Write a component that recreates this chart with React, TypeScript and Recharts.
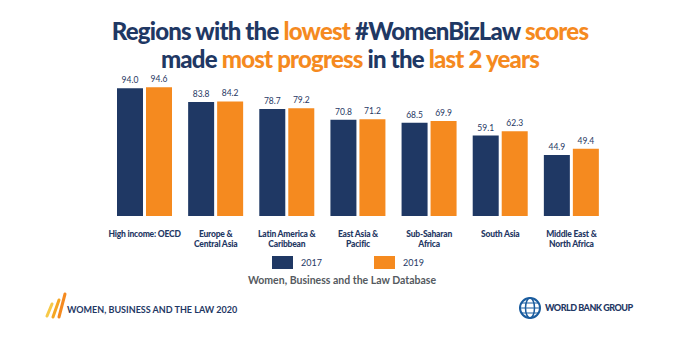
import { BarChart, Bar, XAxis, YAxis, LabelList } from 'recharts'

const regions = [
  'High income: OECD',
  'Europe &\nCentral Asia',
  'Latin America &\nCaribbean',
  'East Asia &\nPacific',
  'Sub-Saharan\nAfrica',
  'South Asia',
  'Middle East &\nNorth Africa',
]
const scores2017 = [94.0, 83.8, 78.7, 70.8, 68.5, 59.1, 44.9]
const scores2019 = [94.6, 84.2, 79.2, 71.2, 69.9, 62.3, 49.4]
const years = ['2017', '2019']

const NAVY = '#1f3864'
const ORANGE = '#f58a1f'
const FONT = 'Lato, "Open Sans", sans-serif'

const data = regions.map((name, i) => ({ name, y2017: scores2017[i], y2019: scores2019[i] }))

function RegionTick({ x, y, payload }: any) {
  const lines = String(payload.value).split('\n')
  return (
    <text x={x} y={y} textAnchor="middle" fill={NAVY} fontSize={8.5} fontWeight={900}
      letterSpacing={-0.2} fontFamily={FONT}>
      {lines.map((l, i) => (
        <tspan key={i} x={x} dy={i === 0 ? 13 : 10}>{l}</tspan>
      ))}
    </text>
  )
}

const fmt = (v: any) => Number(v).toFixed(1)

function Title() {
  const o = { color: ORANGE }
  return (
    <div style={{
      position: 'absolute', left: 10, top: 17, width: 680, textAlign: 'center',
      fontFamily: FONT, fontWeight: 900, fontSize: 24, lineHeight: '28px',
      letterSpacing: -0.8, color: NAVY,
    }}>
      <div>Regions with the <span style={o}>lowest</span> #WomenBizLaw <span style={o}>scores</span></div>
      <div>made <span style={o}>most progress</span> in the <span style={o}>last 2 years</span></div>
    </div>
  )
}

function Legend() {
  const colors = [NAVY, ORANGE]
  return (
    <>
      {years.map((yr, i) => (
        <div key={yr} style={{ position: 'absolute', left: 272 + i * 102, top: 256, display: 'flex', alignItems: 'center' }}>
          <div style={{ width: 21, height: 13, background: colors[i] }} />
          <span style={{ marginLeft: 8, fontFamily: FONT, fontSize: 9, color: NAVY }}>{yr}</span>
        </div>
      ))}
      <div style={{
        position: 'absolute', left: 0, top: 274, width: 684, textAlign: 'center',
        fontFamily: FONT, fontWeight: 700, fontSize: 10.5, color: '#555a60',
      }}>
        Women, Business and the Law Database
      </div>
    </>
  )
}

function Footer() {
  return (
    <>
      <svg style={{ position: 'absolute', left: 44, top: 292 }} width={24} height={28}>
        <path d="M3 24 L8 12" stroke="#f7c948" strokeWidth={3} strokeLinecap="round" />
        <path d="M9 25 L15 8" stroke="#f5a623" strokeWidth={3} strokeLinecap="round" />
        <path d="M15 25 L21 2" stroke={ORANGE} strokeWidth={3} strokeLinecap="round" />
      </svg>
      <div style={{
        position: 'absolute', left: 67, top: 304, fontFamily: FONT, fontWeight: 700,
        fontSize: 9, color: NAVY, letterSpacing: 0,
      }}>
        WOMEN, BUSINESS AND THE LAW 2020
      </div>
      <svg style={{ position: 'absolute', left: 518, top: 296 }} width={24} height={24}>
        <circle cx={12} cy={12} r={10} fill="none" stroke="#1a5c9e" strokeWidth={2} />
        <ellipse cx={12} cy={12} rx={4.5} ry={10} fill="none" stroke="#1a5c9e" strokeWidth={1.5} />
        <path d="M2 12 H22 M4 7 H20 M4 17 H20" stroke="#1a5c9e" strokeWidth={1.2} />
      </svg>
      <div style={{
        position: 'absolute', left: 545, top: 302, fontFamily: FONT, fontWeight: 900,
        fontSize: 9, color: NAVY, letterSpacing: -0.5,
      }}>
        WORLD BANK GROUP
      </div>
    </>
  )
}

export default function App() {
  return (
    <div style={{ position: 'absolute', left: 0, top: 0, width: 680, height: 340, background: '#fff', overflow: 'hidden' }}>
      <Title />
      <div style={{ position: 'absolute', left: 0, top: 0 }}>
        <BarChart
          width={680}
          height={250}
          data={data}
          margin={{ top: 80, right: 73, left: 109, bottom: 0 }}
          barCategoryGap={8}
          barGap={3}
          style={{ fontFamily: FONT }}
        >
          <XAxis dataKey="name" axisLine={false} tickLine={false} interval={0} height={34} tick={<RegionTick />} />
          <YAxis hide domain={[0, 100]} />
          <Bar dataKey="y2017" fill={NAVY} isAnimationActive={false}>
            <LabelList dataKey="y2017" position="top" offset={5} formatter={fmt} fill={NAVY} fontSize={8.5} />
          </Bar>
          <Bar dataKey="y2019" fill={ORANGE} isAnimationActive={false}>
            <LabelList dataKey="y2019" position="top" offset={5} formatter={fmt} fill={NAVY} fontSize={8.5} />
          </Bar>
        </BarChart>
      </div>
      <Legend />
      <Footer />
    </div>
  )
}
